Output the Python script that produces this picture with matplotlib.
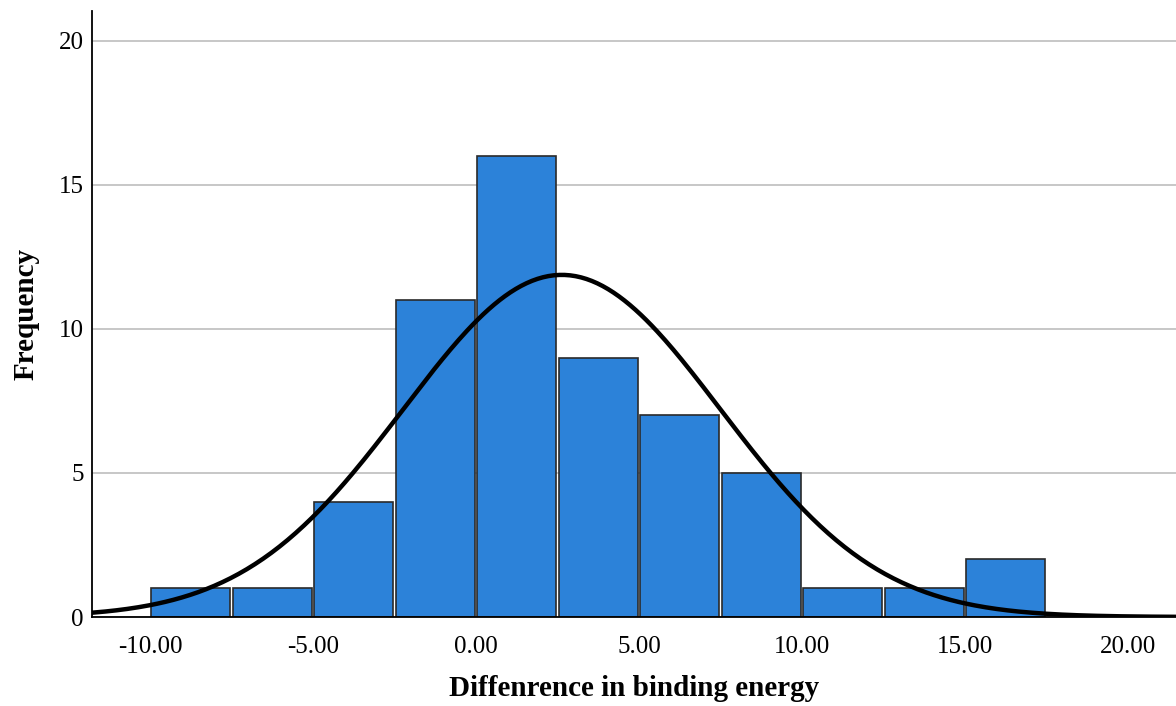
import matplotlib.pyplot as plt
import numpy as np

plt.rcParams['font.family'] = ['Liberation Serif', 'DejaVu Serif']

# histogram bins (left edges) and counts
bin_edges = [-10.0, -7.5, -5.0, -2.5, 0.0, 2.5, 5.0, 7.5, 10.0, 12.5, 15.0]
counts = [1, 1, 4, 11, 16, 9, 7, 5, 1, 1, 2]
bin_width = 2.5

# normal curve parameters
mean = 2.63
std = 4.87
n_total = sum(counts)

x_ticks = [-10, -5, 0, 5, 10, 15, 20]
x_ticklabels = ["-10.00", "-5.00", "0.00", "5.00", "10.00", "15.00", "20.00"]
y_ticks = [0, 5, 10, 15, 20]

fig = plt.figure(figsize=(11.76, 7.06), dpi=100)
ax = fig.add_axes([92 / 1176, 1 - 617 / 706, 1 - 92 / 1176, (617 - 11) / 706])

ax.set_xlim(-11.78, 21.47)
ax.set_ylim(0, 21.04)

ax.yaxis.grid(True, color='#bdbdbd', linewidth=1.2)
ax.set_axisbelow(True)

centers = [e + bin_width / 2 for e in bin_edges]
ax.bar(centers, counts, width=bin_width - 0.08, color='#2c82d9',
       edgecolor='#2a2a2a', linewidth=1.2, zorder=2)

xs = np.linspace(-11.78, 21.47, 400)
ys = n_total * bin_width / (std * np.sqrt(2 * np.pi)) * np.exp(-0.5 * ((xs - mean) / std) ** 2)
ax.plot(xs, ys, color='black', linewidth=3.2, zorder=3)

ax.set_xticks(x_ticks)
ax.set_xticklabels(x_ticklabels)
ax.set_yticks(y_ticks)
ax.tick_params(axis='both', length=0, labelsize=18)
ax.tick_params(axis='x', pad=14)
ax.tick_params(axis='y', pad=6)

for s in ['top', 'right']:
    ax.spines[s].set_visible(False)
for s in ['left', 'bottom']:
    ax.spines[s].set_linewidth(1.3)
    ax.spines[s].set_zorder(4)

ax.set_xlabel("Diffenrence in binding energy", fontsize=21, fontweight='bold', labelpad=12)
ax.set_ylabel("Frequency", fontsize=21, fontweight='bold', labelpad=14)

fig.savefig('out.png', dpi=100)
